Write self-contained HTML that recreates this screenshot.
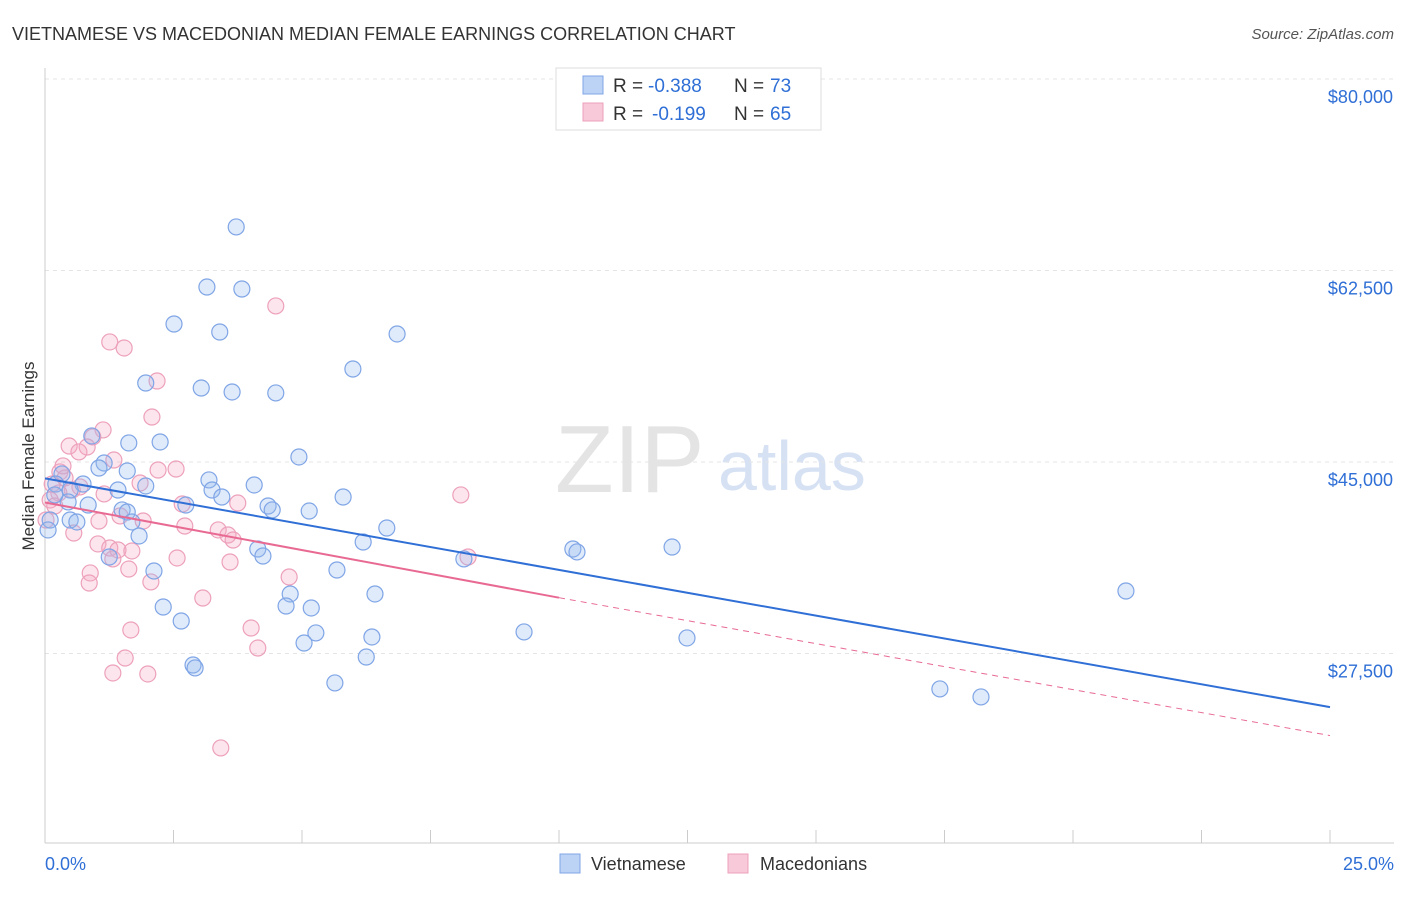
<!DOCTYPE html>
<html><head><meta charset="utf-8"><style>
body{margin:0;background:#fff;font-family:"Liberation Sans",sans-serif;}
svg text{font-family:"Liberation Sans",sans-serif;}
</style></head><body>
<svg id="c" width="1406" height="892" xmlns="http://www.w3.org/2000/svg">
<text x="12" y="40" font-size="18" fill="#333">VIETNAMESE VS MACEDONIAN MEDIAN FEMALE EARNINGS CORRELATION CHART</text>
<text x="1394" y="39" font-size="15" fill="#555" font-style="italic" text-anchor="end">Source: ZipAtlas.com</text>
<text x="555" y="492" font-size="96" fill="#e4e4e4" font-family="Liberation Serif">ZIP</text>
<text x="718" y="490" font-size="70" fill="#d6e2f4">atlas</text>
<g id="grid"></g>
<g id="axes"></g>
<g id="pts"></g>
<g id="trend"></g>
<text transform="translate(34,456) rotate(-90)" font-size="17" fill="#333" text-anchor="middle">Median Female Earnings</text>
<g>
<rect x="556" y="68" width="265" height="62" fill="#fff" stroke="#ddd"/>
<rect x="583" y="76" width="20" height="18" fill="#bcd3f5" stroke="#7fa5e6"/>
<text y="92" font-size="19" fill="#333"><tspan x="613">R =</tspan><tspan x="648" fill="#2f6fd6">-0.388</tspan><tspan x="734">N =</tspan><tspan x="770" fill="#2f6fd6">73</tspan></text>
<rect x="583" y="103" width="20" height="18" fill="#f8c9d8" stroke="#eda0bb"/>
<text y="120" font-size="19" fill="#333"><tspan x="613">R =</tspan><tspan x="652" fill="#2f6fd6">-0.199</tspan><tspan x="734">N =</tspan><tspan x="770" fill="#2f6fd6">65</tspan></text>
</g>
<g>
<rect x="560" y="854" width="20" height="19" fill="#bcd3f5" stroke="#7fa5e6"/>
<text x="591" y="870" font-size="18" fill="#333">Vietnamese</text>
<rect x="728" y="854" width="20" height="19" fill="#f8c9d8" stroke="#eda0bb"/>
<text x="760" y="870" font-size="18" fill="#333">Macedonians</text>
</g>
</svg>
<script>
const yTicks=[80000,62500,45000,27500];
const yTickLabels=["$80,000","$62,500","$45,000","$27,500"];
const xTickLabels=["0.0%","25.0%"];
const blueX=[3.72,3.15,3.83,2.51,3.40,6.85,5.99,1.96,3.04,3.64,4.49,0.91,1.63,2.24,4.94,1.15,1.05,1.60,3.19,0.33,0.74,1.96,1.42,4.07,3.25,3.44,5.80,0.21,0.49,0.45,0.84,1.50,1.60,4.34,4.42,5.14,2.74,0.49,0.62,1.69,6.65,1.83,6.19,4.14,4.24,1.25,8.15,10.27,10.35,12.20,2.12,5.68,6.42,4.77,2.30,4.69,5.18,2.65,5.27,9.32,6.36,12.49,5.04,6.25,2.88,2.92,5.64,17.41,18.21,21.03,0.10,0.06,0.19];
const blueY=[66480,60990,60810,57610,56880,56700,53500,52220,51760,51400,51310,47380,46740,46830,45460,44910,44450,44180,43360,43910,42990,42810,42440,42900,42440,41800,41800,42990,42440,41350,41070,40620,40430,40980,40620,40520,41070,39700,39520,39520,38970,38240,37690,37050,36410,36320,36140,37050,36780,37230,35040,35130,32940,32940,31750,31840,31660,30470,29380,29470,29010,28920,28460,27180,26450,26180,24810,24260,23530,33210,39700,38790,41990];
const pinkX=[4.49,1.26,1.54,2.18,2.08,1.13,0.93,0.82,0.47,0.66,1.34,0.29,0.39,2.20,2.55,0.68,1.15,0.53,0.27,0.10,0.19,1.85,8.09,2.67,3.75,1.46,1.91,1.05,2.72,3.37,3.56,3.66,0.56,1.03,1.26,1.42,1.69,1.32,2.57,3.60,0.88,1.63,2.06,0.86,4.75,3.07,1.67,4.01,1.56,4.14,1.32,2.00,3.42,8.23,0.02,0.14,0.35];
const pinkY=[59260,55970,55420,52400,49110,47930,47290,46370,46460,45920,45180,44090,43540,44270,44360,42720,42080,42440,42170,41530,40980,43080,41990,41160,41250,40070,39610,39610,39150,38790,38330,37870,38510,37510,37140,36960,36870,36140,36230,35860,34860,35220,34040,33940,34490,32570,29650,29830,27090,28000,25720,25630,18870,36320,39700,42990,44640];
const blueTrend=[0,43500,25,22600];
const pinkTrend=[0,41300,10,32600,25,20000];
const X0=45,X1=1330,xs=v=>X0+(v/25)*(X1-X0);
const ys=v=>79+(80000-v)/17500*191.5;
const NS="http://www.w3.org/2000/svg";
function mk(p,t,a){const e=document.createElementNS(NS,t);for(const k in a)e.setAttribute(k,a[k]);document.getElementById(p).appendChild(e);return e;}
yTicks.forEach((v,i)=>{
 const l=mk('grid','line',{x1:45,x2:1394,y1:ys(v),y2:ys(v),stroke:'#e4e4e4','stroke-dasharray':'4,4'});
 
 
 const t=mk('grid','text',{x:1393,y:ys(v)+24,'font-size':18,fill:'#2f6fd6','text-anchor':'end'});
 t.textContent=yTickLabels[i];
 
 
});
mk('axes','line',{x1:45,x2:45,y1:68,y2:843,stroke:'#ccc'});
mk('axes','line',{x1:45,x2:1394,y1:843,y2:843,stroke:'#ccc'});
for(let i=0;i<=10;i++){const x=xs(i*2.5);const t=mk('axes','line',{x1:x,x2:x,y1:830,y2:843,stroke:'#ccc'});
 
 }
[[0,'start',45],[1,'end',1394]].forEach(([i,a,x])=>{const t=mk('axes','text',{x:x,y:870,'font-size':18,fill:'#2f6fd6','text-anchor':a});t.textContent=xTickLabels[i];
 
 });
pinkX.forEach((v,i)=>{const c=mk('pts','circle',{cx:xs(v),cy:ys(pinkY[i]),r:8,fill:'rgba(244,170,196,0.3)',stroke:'#eda0bb','stroke-width':1.2});
 
 });
blueX.forEach((v,i)=>{const c=mk('pts','circle',{cx:xs(v),cy:ys(blueY[i]),r:8,fill:'rgba(150,185,240,0.3)',stroke:'#7fa5e6','stroke-width':1.2});
 
 });
let l=mk('trend','line',{x1:xs(blueTrend[0]),y1:ys(blueTrend[1]),x2:xs(blueTrend[2]),y2:ys(blueTrend[3]),stroke:'#2f6fd6','stroke-width':2});


l=mk('trend','line',{x1:xs(pinkTrend[0]),y1:ys(pinkTrend[1]),x2:xs(pinkTrend[2]),y2:ys(pinkTrend[3]),stroke:'#e86a93','stroke-width':2});


l=mk('trend','line',{x1:xs(pinkTrend[2]),y1:ys(pinkTrend[3]),x2:xs(pinkTrend[4]),y2:ys(pinkTrend[5]),stroke:'#e86a93','stroke-width':1,'stroke-dasharray':'6,5'});


</script>
</body></html>
